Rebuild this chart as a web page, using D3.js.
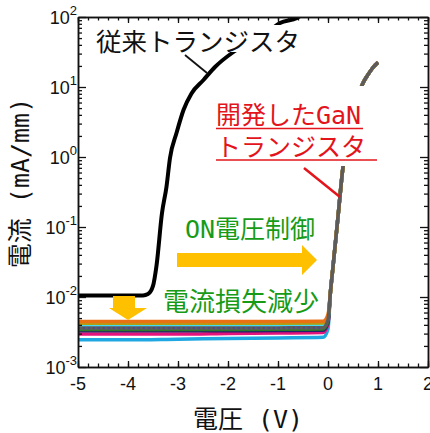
<!doctype html>
<html lang="ja">
<head>
<meta charset="utf-8">
<script src="https://cdn.jsdelivr.net/npm/d3@7"></script>
<style>
  body { margin: 0; background: #fff; }
  .axis path, .axis line { stroke: #111; }
  .tickLbl { font-family: "Liberation Sans", Arial, sans-serif; font-size: 18px; fill: #111; }
  .jp { font-family: "Noto Sans CJK JP", sans-serif; }
  .mono { font-family: "DejaVu Sans Mono", monospace; }
</style>
</head>
<body>
<script>
// conventional transistor (black)
var convV = [-5, -4, -3.7, -3.6, -3.5, -3.43, -3.32, -3.23, -3.16, -3.03, -2.89, -2.73, -2.49, -2.26, -1.92, -1.5, -1.2, -0.96, -0.62, -0.5];
var convI = [0.0105, 0.0105, 0.0105, 0.011, 0.0144, 0.028, 0.158, 0.377, 0.97, 2.2, 4.7, 8.1, 12.6, 19.3, 30.6, 46, 62, 82, 97, 110];

// new GaN transistors: off-state part, one array per device
var leakV = [-5, -4, -3, -2, -1, -0.1, 0];
var leakOrange  = [4.45e-3, 4.45e-3, 4.45e-3, 4.45e-3, 4.45e-3, 4.5e-3, 5.6e-3];
var leakOlive   = [4.2e-3, 4.2e-3, 4.2e-3, 4.2e-3, 4.2e-3, 4.25e-3, 5.3e-3];
var leakCyan    = [3.95e-3, 3.95e-3, 3.95e-3, 3.95e-3, 3.95e-3, 4.0e-3, 5.0e-3];
var leakGray    = [3.6e-3, 3.6e-3, 3.6e-3, 3.6e-3, 3.62e-3, 3.65e-3, 4.7e-3];
var leakGreen   = [3.42e-3, 3.42e-3, 3.42e-3, 3.42e-3, 3.45e-3, 3.5e-3, 4.5e-3];
var leakNavy    = [3.3e-3, 3.3e-3, 3.3e-3, 3.3e-3, 3.32e-3, 3.35e-3, 4.4e-3];
var leakMagenta = [2.95e-3, 2.95e-3, 2.95e-3, 3.0e-3, 3.05e-3, 3.1e-3, 4.1e-3];
var leakBlue    = [2.45e-3, 2.45e-3, 2.5e-3, 2.55e-3, 2.6e-3, 2.65e-3, 3.5e-3];
// on-state part shared by all devices
var onV = [0.05, 0.1, 0.2, 0.3, 0.4, 0.5, 0.6, 0.7, 0.8, 0.9, 1.0];
var onI = [0.012, 0.027, 0.14, 0.72, 2.0, 4.3, 7.5, 11.4, 15, 19, 22.5];

var xTicks = [-5, -4, -3, -2, -1, 0, 1, 2];
var yTickExp = [-3, -2, -1, 0, 1, 2];

var svgW = 430, svgH = 433;
var margin = {top: 17, right: 2, bottom: 66, left: 78};
var w = svgW - margin.left - margin.right;
var h = svgH - margin.top - margin.bottom;

var xScale = d3.scaleLinear().domain([-5, 2]).range([0, w]);
var yScale = d3.scaleLog().domain([1e-3, 1e2]).range([h, 0]);

var svg = d3.select("body").append("svg")
    .attr("width", svgW).attr("height", svgH);

var g = svg.append("g")
    .attr("transform", "translate(" + margin.left + "," + margin.top + ")");

g.append("clipPath").attr("id", "plotClip")
  .append("rect").attr("width", w).attr("height", h);

var line = d3.line()
    .x(d => xScale(d[0]))
    .y(d => yScale(d[1]))
    .curve(d3.curveMonotoneX);

var curves = g.append("g").attr("clip-path", "url(#plotClip)");

function ganSeries(leak) {
    var pts = leakV.map((v, i) => [v, leak[i]]);
    return pts.concat(onV.map((v, i) => [v, onI[i]]));
}

var ganDevices = [
    {vals: leakBlue, color: "#1ea7e1"},
    {vals: leakMagenta, color: "#e4137b"},
    {vals: leakNavy, color: "#23236b"},
    {vals: leakGreen, color: "#2c7a2c"},
    {vals: leakCyan, color: "#45dcf2"},
    {vals: leakOlive, color: "#b49b12"},
    {vals: leakOrange, color: "#ea7014"},
    {vals: leakGray, color: "#5c5c5c"}
];

ganDevices.forEach(function(dev) {
    curves.append("path")
        .datum(ganSeries(dev.vals))
        .attr("fill", "none")
        .attr("stroke", dev.color)
        .attr("stroke-width", 3.5)
        .attr("d", line);
});
// dotted overlay on the gray device
curves.append("path")
    .datum(leakV.slice(0, 6).map((v, i) => [v, leakGray[i]]))
    .attr("fill", "none")
    .attr("stroke", "#4a4a8c")
    .attr("stroke-width", 2)
    .attr("stroke-dasharray", "2,3")
    .attr("d", line);

curves.append("path")
    .datum(convV.map((v, i) => [v, convI[i]]))
    .attr("fill", "none")
    .attr("stroke", "#000")
    .attr("stroke-width", 4)
    .attr("d", line);

// axes, ticks inward on all sides
var xMinor = d3.range(-5, 2.001, 0.2);
var yMinor = [];
yTickExp.slice(0, -1).forEach(function(e) {
    for (var k = 2; k <= 9; k++) yMinor.push(k * Math.pow(10, e));
});
var yMajor = yTickExp.map(e => Math.pow(10, e));

function addAxis(axisFn, scale, vals, size, tr) {
    var a = g.append("g").attr("class", "axis")
        .attr("transform", tr)
        .call(axisFn(scale).tickValues(vals).tickSize(size).tickSizeOuter(0).tickFormat(""));
    a.select(".domain").attr("stroke-width", 1.5);
    a.selectAll(".tick line").attr("stroke-width", 1.3);
}
addAxis(d3.axisBottom, xScale, xMinor, -3.5, "translate(0," + h + ")");
addAxis(d3.axisBottom, xScale, xTicks, -6, "translate(0," + h + ")");
addAxis(d3.axisTop, xScale, xMinor, -3.5, "translate(0,0)");
addAxis(d3.axisTop, xScale, xTicks, -6, "translate(0,0)");
addAxis(d3.axisLeft, yScale, yMinor, -4, "translate(0,0)");
addAxis(d3.axisLeft, yScale, yMajor, -8, "translate(0,0)");
addAxis(d3.axisRight, yScale, yMinor, -4, "translate(" + w + ",0)");
addAxis(d3.axisRight, yScale, yMajor, -8, "translate(" + w + ",0)");

// tick labels
g.selectAll(".xLbl").data(xTicks).enter().append("text")
    .attr("class", "tickLbl")
    .attr("x", d => xScale(d))
    .attr("y", h + 23)
    .attr("text-anchor", "middle")
    .text(d => d);

var yl = g.selectAll(".yLbl").data(yTickExp).enter().append("text")
    .attr("class", "tickLbl")
    .attr("x", -1)
    .attr("y", d => yScale(Math.pow(10, d)) + 7)
    .attr("text-anchor", "end");
yl.append("tspan").text("10");
yl.append("tspan").attr("font-size", 13).attr("dy", -9).text(d => d);

// axis titles
var xt = svg.append("text").attr("class", "jp")
    .attr("x", 248).attr("y", 428)
    .attr("text-anchor", "middle")
    .attr("font-size", 25).attr("fill", "#111");
xt.append("tspan").text("電圧");
xt.append("tspan").attr("class", "mono").text(" (V)");

var yt = svg.append("text").attr("class", "jp")
    .attr("transform", "translate(29,183) rotate(-90)")
    .attr("text-anchor", "middle")
    .attr("font-size", 25).attr("fill", "#111");
yt.append("tspan").text("電流");
yt.append("tspan").attr("class", "mono").text(" (mA/mm)");

// white boxes behind labels
svg.append("rect").attr("x", 92).attr("y", 25).attr("width", 208).attr("height", 27).attr("fill", "#fff");
svg.append("rect").attr("x", 214).attr("y", 86).attr("width", 166).attr("height", 80).attr("fill", "#fff");
svg.append("rect").attr("x", 158).attr("y", 284).attr("width", 164).attr("height", 34).attr("fill", "#fff");

// conventional label
svg.append("text").attr("class", "jp")
    .attr("x", 96).attr("y", 51)
    .attr("font-size", 25.5).attr("fill", "#111")
    .text("従来トランジスタ");
svg.append("line")
    .attr("x1", 185).attr("y1", 55).attr("x2", 207).attr("y2", 73)
    .attr("stroke", "#111").attr("stroke-width", 1.8);

// new GaN label
var red = "#e3141b";
var r1 = svg.append("text").attr("class", "jp")
    .attr("x", 216).attr("y", 124)
    .attr("font-size", 25).attr("fill", red);
r1.append("tspan").text("開発した");
r1.append("tspan").attr("class", "mono").text("GaN");
svg.append("text").attr("class", "jp")
    .attr("x", 216).attr("y", 156)
    .attr("font-size", 25).attr("fill", red)
    .text("トランジスタ");
svg.append("line").attr("x1", 216).attr("x2", 363).attr("y1", 128.5).attr("y2", 128.5)
    .attr("stroke", red).attr("stroke-width", 1.5);
svg.append("line").attr("x1", 216).attr("x2", 377).attr("y1", 160).attr("y2", 160)
    .attr("stroke", red).attr("stroke-width", 1.5);
svg.append("line")
    .attr("x1", 304).attr("y1", 168).attr("x2", 340).attr("y2", 197)
    .attr("stroke", red).attr("stroke-width", 2.5);

// annotations
var green = "#179b17";
var g1 = svg.append("text").attr("class", "jp")
    .attr("x", 185).attr("y", 238)
    .attr("font-size", 25).attr("fill", green);
g1.append("tspan").attr("class", "mono").text("ON");
g1.append("tspan").text("電圧制御");

svg.append("text").attr("class", "jp")
    .attr("x", 163).attr("y", 311)
    .attr("font-size", 26).attr("fill", green)
    .text("電流損失減少");

var yellow = "#ffc000";
svg.append("path")
    .attr("d", "M177,253 L302,253 L302,245 L317,260 L302,275 L302,267 L177,267 Z")
    .attr("fill", yellow);
svg.append("path")
    .attr("d", "M113,296 L135,296 L135,308 L147,308 L128,320 L109,308 L113,308 Z")
    .attr("fill", yellow);
</script>
</body>
</html>
